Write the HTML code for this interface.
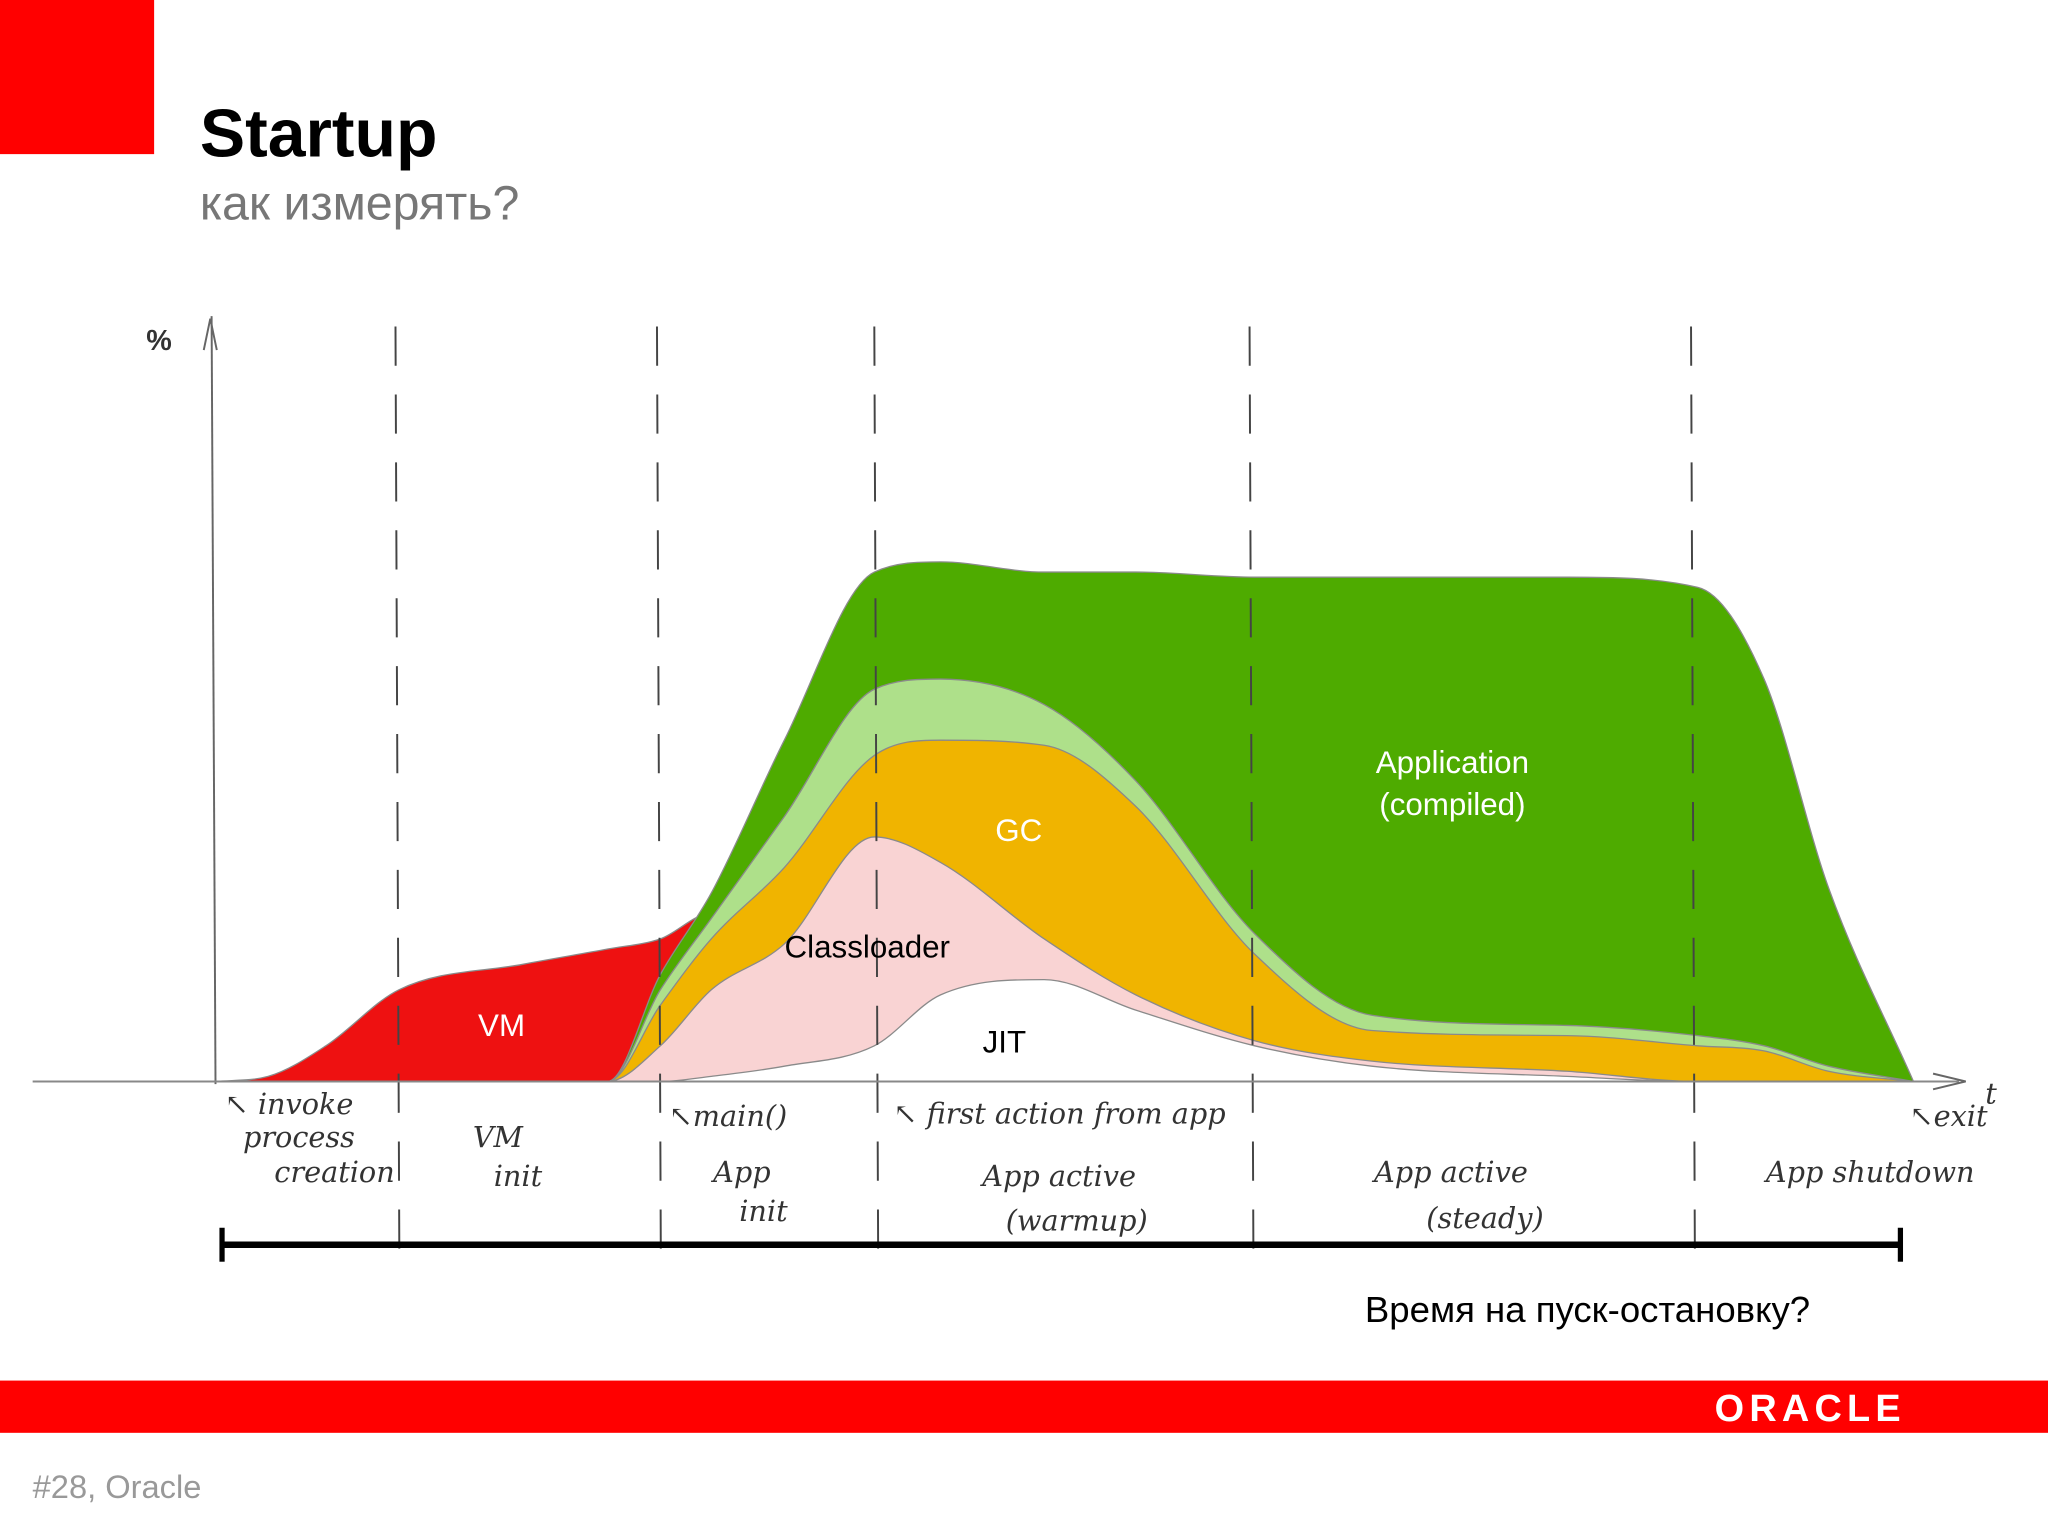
<!DOCTYPE html>
<html><head><meta charset="utf-8"><style>
html,body{margin:0;padding:0;background:#fff;}
svg{display:block;font-family:"Liberation Sans","DejaVu Sans",sans-serif;}
.hand{font-family:"DejaVu Serif","Liberation Serif",serif;font-style:italic;fill:#333;font-size:22px;}
</style></head><body>
<svg id="s" width="2048" height="1536" viewBox="0 0 1568 1176" xmlns="http://www.w3.org/2000/svg">
<rect x="0" y="0" width="118" height="118" fill="#ff0000"/>
<text x="153" y="120" font-size="52" font-weight="bold" fill="#000">Startup</text>
<text x="153" y="168" font-size="37" fill="#777">как измерять?</text>
<g id="areas"></g>
<g id="dashes"></g>
<line x1="162" y1="242" x2="165" y2="830" stroke="#666" stroke-width="1.5"/>
<path d="M156 268 L161 244 L166 268" fill="none" stroke="#666" stroke-width="1.5"/>
<text x="112" y="268" font-size="22" font-weight="bold" fill="#333">%</text>
<line x1="25" y1="828" x2="1500" y2="828" stroke="#888" stroke-width="1.5"/>
<path d="M1480 822 L1505 828 L1480 834" fill="none" stroke="#666" stroke-width="1.5"/>
<text x="1520" y="845" class="hand" font-size="34">t</text>
<text x="384" y="793" font-size="24" fill="#fff" text-anchor="middle">VM</text>
<text x="664" y="733" font-size="24" fill="#000" text-anchor="middle">Classloader</text>
<text x="780" y="644" font-size="24" fill="#fff" text-anchor="middle">GC</text>
<text x="769" y="806" font-size="24" fill="#000" text-anchor="middle">JIT</text>
<text x="1112" y="592" font-size="24" fill="#fff" text-anchor="middle">Application</text>
<text x="1112" y="624" font-size="24" fill="#fff" text-anchor="middle">(compiled)</text>
<g>
<text x="172" y="853" class="hand" font-size="19">↖ invoke</text>
<text x="186" y="878" class="hand" font-size="17">process</text>
<text x="210" y="905" class="hand" font-size="17">creation</text>
<text x="362" y="878" class="hand">VM</text>
<text x="378" y="908" class="hand">init</text>
<text x="512" y="862" class="hand" font-size="19">↖main()</text>
<text x="546" y="905" class="hand">App</text>
<text x="566" y="935" class="hand">init</text>
<text x="684" y="860" class="hand" font-size="20">↖ first action from app</text>
<text x="752" y="908" class="hand">App active</text>
<text x="770" y="942" class="hand">(warmup)</text>
<text x="1052" y="905" class="hand">App active</text>
<text x="1092" y="940" class="hand">(steady)</text>
<text x="1352" y="905" class="hand">App shutdown</text>
<text x="1462" y="862" class="hand" font-size="17">↖exit</text>
</g>
<line x1="170" y1="953" x2="1455" y2="953" stroke="#000" stroke-width="5"/>
<line x1="170" y1="940" x2="170" y2="966" stroke="#000" stroke-width="4"/>
<line x1="1455" y1="940" x2="1455" y2="966" stroke="#000" stroke-width="4"/>
<text x="1045" y="1012" font-size="28" fill="#000">Время на пуск-остановку?</text>
<rect x="0" y="1057" width="1568" height="40" fill="#ff0000"/>
<text x="1386" y="1088" font-size="29" font-weight="bold" fill="#fff" text-anchor="middle" letter-spacing="4">ORACLE</text>
<text x="25" y="1147" font-size="25" fill="#999">#28, Oracle</text>
</svg>
<script>
const times = [0,3.1,6.5,10.8,18.1,23.1,26.2,29.2,33.5,38.8,42.7,48.8,54.2,61.2,68.1,79.6,87.3,91.2,95,100];
const vmValues = [0,1,7,18,23,26,28,33,0,0,0,0,0,0,0,0,0,0,0,0];
const jitValues = [0,0,0,0,0,0,0,1,3,7,17,20,14,7,3,1,0,0,0,0];
const classloaderValues = [0,0,0,0,0,0,7,17,24,41,26,8,3,1,1,1,0,0,0,0];
const gcValues = [0,0,0,0,0,0,8,10,15,16,24,38,37,17,6,7,7,6,2,0];
const interpretedValues = [0,0,0,0,0,0,3,4,10,13,12,8,5,4,3,2,2,1,1,0];
const compiledValues = [0,0,0,0,0,0,3,5,15,23,23,26,41,70,86,88,88,72,35,0];
const phaseTimes = [10.6,26,38.8,60.9,86.9];

const NS = "http://www.w3.org/2000/svg";
function xs(t){return 165 + t*13;}
function ys(v){return 828 - v*3.9;}
// monotone cubic (Fritsch-Carlson) path, no overshoot
function mono(pts, moveFirst){
  const n=pts.length, dx=[], m=[], d=[];
  for(let i=0;i<n-1;i++){dx[i]=pts[i+1][0]-pts[i][0]; d[i]=(pts[i+1][1]-pts[i][1])/dx[i];}
  m[0]=d[0]; m[n-1]=d[n-2];
  for(let i=1;i<n-1;i++){ m[i]=(d[i-1]*d[i]<=0)?0:(d[i-1]+d[i])/2; }
  for(let i=0;i<n-1;i++){
    if(d[i]===0){m[i]=0;m[i+1]=0;continue;}
    const a=m[i]/d[i], b=m[i+1]/d[i], s=a*a+b*b;
    if(s>9){const t=3/Math.sqrt(s); m[i]=t*a*d[i]; m[i+1]=t*b*d[i];}
  }
  let s=(moveFirst?"M":"L")+pts[0][0]+" "+pts[0][1];
  for(let i=0;i<n-1;i++){
    const h=dx[i]/3;
    s+=" C"+(pts[i][0]+h)+" "+(pts[i][1]+m[i]*h)+" "+(pts[i+1][0]-h)+" "+(pts[i+1][1]-m[i+1]*h)+" "+pts[i+1][0]+" "+pts[i+1][1];
  }
  return s;
}
const areas = document.getElementById("areas");
function area(upper, color, name){
  const top = times.map((t,i)=>[xs(t), ys(upper[i])]);
  const p = document.createElementNS(NS,"path");
  p.setAttribute("d", mono(top,true) + " L" + xs(times[times.length-1]) + " " + ys(0) + " L" + xs(times[0]) + " " + ys(0) + " Z");
  p.setAttribute("fill", color);
  p.setAttribute("stroke", "#8a8a8a");
  p.setAttribute("stroke-width", "1");
  
  
  areas.appendChild(p);
}
area(vmValues, "#ee1111", "area-vm");
const layers = [[jitValues,"#ffffff","area-jit"],[classloaderValues,"#f9d3d3","area-classloader"],[gcValues,"#f0b400","area-gc"],[interpretedValues,"#aee08a","area-app-interpreted"],[compiledValues,"#4eab00","area-app-compiled"]];
let base = times.map(()=>0);
const stacks = [];
layers.forEach(l=>{
  const top = base.map((b,i)=>b+l[0][i]);
  stacks.push([top,l[1],l[2]]);
  base = top;
});
for(let i=stacks.length-1;i>=0;i--){ area(stacks[i][0], stacks[i][1], stacks[i][2]); }
const dashes = document.getElementById("dashes");
phaseTimes.forEach((t)=>{
  const l = document.createElementNS(NS,"line");
  l.setAttribute("x1", xs(t)); l.setAttribute("x2", xs(t)+3);
  l.setAttribute("y1", 250); l.setAttribute("y2", 975);
  l.setAttribute("stroke", "#444"); l.setAttribute("stroke-width", "1.5");
  l.setAttribute("stroke-dasharray", "30 22");
  
  
  dashes.appendChild(l);
});
</script>
</body></html>
